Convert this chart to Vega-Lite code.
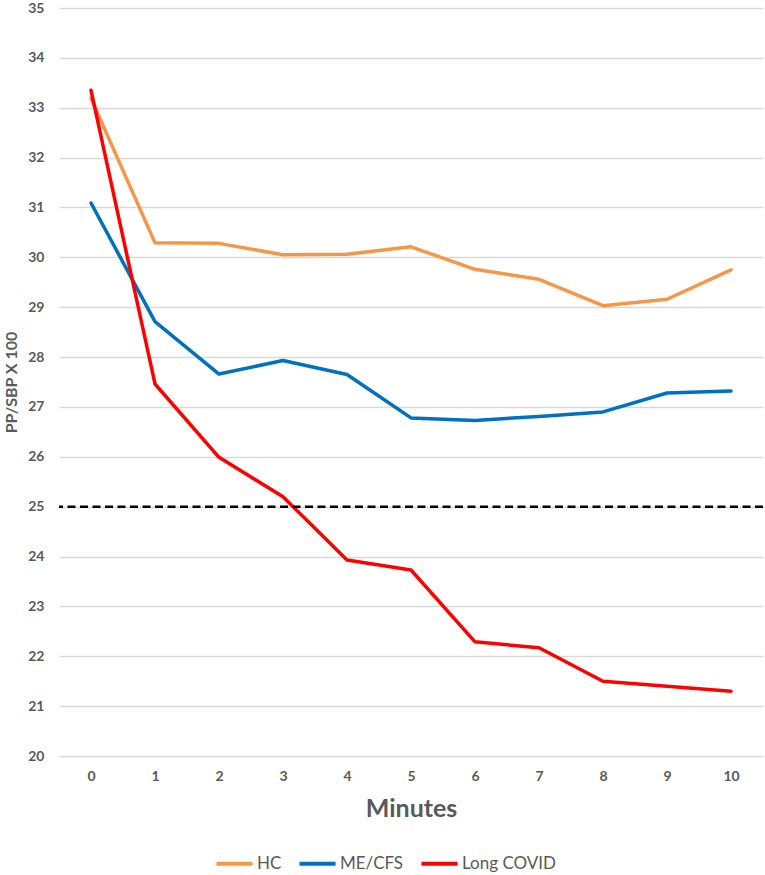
{
  "$schema": "https://vega.github.io/schema/vega-lite/v6.json",
  "autosize": "none",
  "width": 704,
  "height": 748,
  "padding": {"left": 59, "top": 8, "right": 2, "bottom": 119},
  "background": "white",
  "config": {
    "view": {"stroke": null},
    "font": "Lato",
    "axis": {"labelColor": "#595959", "titleColor": "#595959", "labelFont": "Lato", "titleFont": "Lato"}
  },
  "datasets": {
    "series": [
      {"minute": 0, "group": "HC", "value": 33.19},
      {"minute": 1, "group": "HC", "value": 30.29},
      {"minute": 2, "group": "HC", "value": 30.28},
      {"minute": 3, "group": "HC", "value": 30.05},
      {"minute": 4, "group": "HC", "value": 30.06},
      {"minute": 5, "group": "HC", "value": 30.21},
      {"minute": 6, "group": "HC", "value": 29.76},
      {"minute": 7, "group": "HC", "value": 29.56},
      {"minute": 8, "group": "HC", "value": 29.03},
      {"minute": 9, "group": "HC", "value": 29.16},
      {"minute": 10, "group": "HC", "value": 29.75},
      {"minute": 0, "group": "ME/CFS", "value": 31.09},
      {"minute": 1, "group": "ME/CFS", "value": 28.71},
      {"minute": 2, "group": "ME/CFS", "value": 27.66},
      {"minute": 3, "group": "ME/CFS", "value": 27.93},
      {"minute": 4, "group": "ME/CFS", "value": 27.65},
      {"minute": 5, "group": "ME/CFS", "value": 26.78},
      {"minute": 6, "group": "ME/CFS", "value": 26.73},
      {"minute": 7, "group": "ME/CFS", "value": 26.81},
      {"minute": 8, "group": "ME/CFS", "value": 26.9},
      {"minute": 9, "group": "ME/CFS", "value": 27.28},
      {"minute": 10, "group": "ME/CFS", "value": 27.32},
      {"minute": 0, "group": "Long COVID", "value": 33.35},
      {"minute": 1, "group": "Long COVID", "value": 27.46},
      {"minute": 2, "group": "Long COVID", "value": 25.99},
      {"minute": 3, "group": "Long COVID", "value": 25.2},
      {"minute": 4, "group": "Long COVID", "value": 23.93},
      {"minute": 5, "group": "Long COVID", "value": 23.73},
      {"minute": 6, "group": "Long COVID", "value": 22.29},
      {"minute": 7, "group": "Long COVID", "value": 22.17},
      {"minute": 8, "group": "Long COVID", "value": 21.5},
      {"minute": 9, "group": "Long COVID", "value": 21.4},
      {"minute": 10, "group": "Long COVID", "value": 21.3}
    ],
    "threshold": [{"level": 25}]
  },
  "layer": [
    {
      "data": {"name": "series"},
      "mark": {"type": "line", "strokeWidth": 3.5, "strokeJoin": "round", "strokeCap": "round"},
      "encoding": {
        "x": {
          "field": "minute", "type": "quantitative",
          "scale": {"domain": [-0.5, 10.5], "nice": false, "zero": false},
          "axis": {
            "values": [0, 1, 2, 3, 4, 5, 6, 7, 8, 9, 10],
            "grid": false, "domain": false, "ticks": false,
            "labelFontSize": 14, "labelFontWeight": "bold", "labelPadding": 13,
            "title": "Minutes", "titleFontSize": 25, "titleFontWeight": "bold", "titlePadding": 13
          }
        },
        "y": {
          "field": "value", "type": "quantitative",
          "scale": {"domain": [20, 35], "nice": false, "zero": false},
          "axis": {
            "values": [20, 21, 22, 23, 24, 25, 26, 27, 28, 29, 30, 31, 32, 33, 34, 35],
            "grid": true, "gridColor": "#d9d9d9", "gridWidth": 1.3,
            "domain": false, "ticks": false,
            "labelFontSize": 14, "labelFontWeight": "bold", "labelPadding": 15,
            "title": "PP/SBP X 100", "titleFontSize": 16, "titleFontWeight": "bold", "titlePadding": 8
          }
        },
        "color": {
          "field": "group", "type": "nominal",
          "scale": {"domain": ["HC", "ME/CFS", "Long COVID"], "range": ["#F79646", "#0070C0", "#FF0000"]},
          "legend": {
            "title": null, "orient": "none", "direction": "horizontal",
            "legendX": 155, "legendY": 835,
            "symbolType": "stroke", "symbolSize": 1300, "symbolStrokeWidth": 4,
            "labelFontSize": 17, "labelColor": "#595959", "labelFont": "Lato", "labelFontWeight": "normal",
            "labelOffset": 2, "columnPadding": 9
          }
        }
      }
    },
    {
      "data": {"name": "threshold"},
      "mark": {"type": "rule", "color": "black", "strokeWidth": 2.5, "strokeDash": [8, 4.5]},
      "encoding": {"y": {"field": "level", "type": "quantitative"}}
    }
  ]
}
